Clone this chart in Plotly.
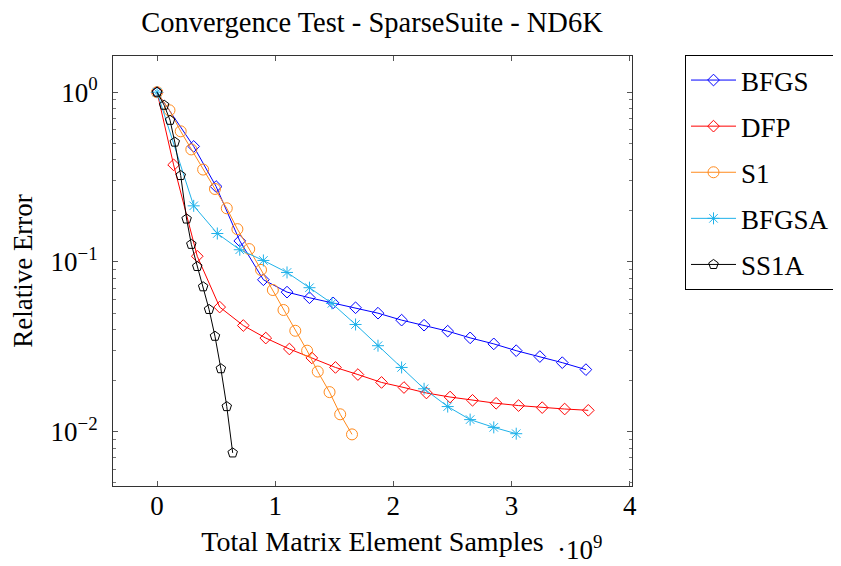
import plotly.graph_objects as go

# Data (x in units of 1e9 samples)
bfgs_x = [0, 0.31, 0.50, 0.70, 0.90, 1.10, 1.29, 1.49, 1.68, 1.87, 2.07, 2.26, 2.46, 2.65, 2.85, 3.04, 3.24, 3.43, 3.63]
bfgs_y = [1.0, 0.479, 0.278, 0.133, 0.0785, 0.0664, 0.0615, 0.0574, 0.0537, 0.0499, 0.0454, 0.0424, 0.0391, 0.0357, 0.0329, 0.0300, 0.0277, 0.0255, 0.0232]

dfp_x = [0, 0.14, 0.34, 0.53, 0.73, 0.92, 1.12, 1.31, 1.51, 1.70, 1.90, 2.09, 2.28, 2.48, 2.67, 2.87, 3.06, 3.26, 3.45, 3.65]
dfp_y = [1.0, 0.373, 0.108, 0.0542, 0.0422, 0.0356, 0.0307, 0.0272, 0.0239, 0.0217, 0.0195, 0.0182, 0.0169, 0.0160, 0.0153, 0.0147, 0.01425, 0.01386, 0.0136, 0.01336]

s1_x = [0, 0.105, 0.20, 0.29, 0.39, 0.49, 0.59, 0.68, 0.78, 0.88, 0.98, 1.07, 1.17, 1.27, 1.36, 1.46, 1.55, 1.65]
s1_y = [1.0, 0.782, 0.588, 0.460, 0.350, 0.269, 0.207, 0.156, 0.119, 0.0897, 0.0683, 0.0521, 0.0393, 0.0300, 0.0226, 0.0171, 0.01266, 0.00964]

bfgsa_x = [0, 0.31, 0.51, 0.70, 0.90, 1.10, 1.29, 1.48, 1.68, 1.87, 2.07, 2.26, 2.46, 2.65, 2.85, 3.04]
bfgsa_y = [1.0, 0.214, 0.147, 0.118, 0.102, 0.0867, 0.0705, 0.0570, 0.0428, 0.0321, 0.0239, 0.0179, 0.01406, 0.01178, 0.0106, 0.00973]

ss1a_x = [0, 0.06, 0.11, 0.15, 0.20, 0.25, 0.29, 0.34, 0.39, 0.44, 0.49, 0.54, 0.59, 0.64]
ss1a_y = [1.0, 0.838, 0.683, 0.508, 0.323, 0.179, 0.127, 0.094, 0.0714, 0.0525, 0.0365, 0.0235, 0.01406, 0.0075]

x_ticks = [0, 1, 2, 3, 4]
y_ticks = [1, 0.1, 0.01]
y_ticktext = ["10<sup>0</sup>", "10<sup>\u22121</sup>", "10<sup>\u22122</sup>"]
y_minor = [m * 10.0 ** e for e in (-3, -2, -1, 0) for m in range(2, 10)]

FONT = "Liberation Serif"
FS = 27

series = [
    ("BFGS", bfgs_x, bfgs_y, "#0000ff", "diamond-open", 9),
    ("DFP", dfp_x, dfp_y, "#ff0000", "diamond-open", 9),
    ("S1", s1_x, s1_y, "#ff8a1c", "circle-open", 11),
    ("BFGSA", bfgsa_x, bfgsa_y, "#1fb2ea", "asterisk-open", 10),
    ("SS1A", ss1a_x, ss1a_y, "#000000", "pentagon-open", 10),
]

W, H = 833, 558
L, R, T, B = 105, 209, 48, 80
PW, PH = W - L - R, H - T - B

fig = go.Figure()
for name, xs, ys, col, sym, sz in series:
    fig.add_trace(go.Scatter(
        x=xs, y=ys, name=name, mode="lines+markers", legendgroup=name,
        line=dict(color=col, width=1),
        marker=dict(symbol=sym, size=sz, color=col, line=dict(color=col, width=1)),
    ))

fig.update_layout(
    width=W, height=H,
    margin=dict(l=L, r=R, t=T, b=B, autoexpand=False),
    paper_bgcolor="white", plot_bgcolor="white",
    font=dict(family=FONT, size=FS, color="black"),
    title=dict(text="Convergence Test - SparseSuite - ND6K", x=364 / W,
               xanchor="center", y=1 - 14 / H, yanchor="middle", font=dict(size=28.5)),
    showlegend=True,
    legend=dict(x=(677 - L) / PW, y=1 + 1 / PH, xanchor="left", yanchor="top", bordercolor="black",
                borderwidth=1, bgcolor="white", font=dict(size=FS), tracegroupgap=8, itemwidth=45),
)

fig.update_xaxes(
    range=[-0.373, 4.02], tickvals=x_ticks, ticks="inside", ticklen=5, tickcolor="#555",
    showline=True, linecolor="#333", linewidth=1, mirror="allticks", showgrid=False, zeroline=False,
    tickfont=dict(size=FS), ticklabelstandoff=-4,
    title=dict(text="Total Matrix Element Samples", font=dict(size=28), standoff=10),
)
fig.update_yaxes(
    type="log", range=[-2.32, 0.213], tickvals=y_ticks, ticktext=y_ticktext, ticks="inside", ticklen=5,
    tickcolor="#555", showline=True, linecolor="#333", linewidth=1, mirror="allticks", showgrid=False,
    zeroline=False, tickfont=dict(size=FS), ticklabelstandoff=9,
    minor=dict(tickvals=y_minor, ticks="inside", ticklen=3, tickcolor="#777", showgrid=False),
    title=dict(text="Relative Error", font=dict(size=FS), standoff=11),
)

fig.add_annotation(text="\u00b710<sup>9</sup>", xref="paper", yref="paper", x=(547 - L) / PW,
                   y=-(540 - (T + PH)) / PH,
                   xanchor="left", yanchor="middle", showarrow=False, font=dict(size=FS))

fig.write_html("out.html")
